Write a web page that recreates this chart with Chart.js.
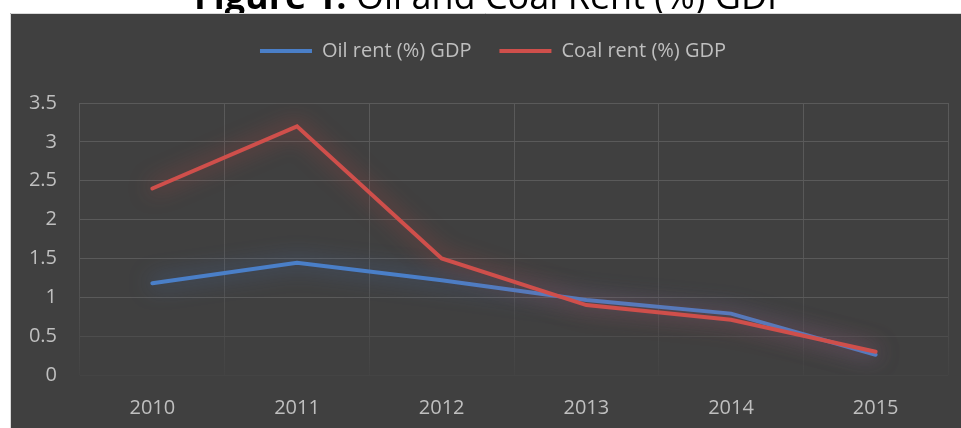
<!DOCTYPE html>
<html>
<head>
<meta charset="utf-8">
<script src="https://cdn.jsdelivr.net/npm/chart.js@4/dist/chart.umd.min.js"></script>
<style>
  html, body { margin: 0; padding: 0; background: #ffffff; }
  #wrap { width: 961px; height: 428px; position: relative; }
</style>
</head>
<body>
<div id="wrap"><canvas id="c" width="961" height="428"></canvas></div>
<script>
const years = ['2010', '2011', '2012', '2013', '2014', '2015'];
const oilRent = [1.18, 1.445, 1.22, 0.965, 0.79, 0.26];
const coalRent = [2.40, 3.20, 1.50, 0.90, 0.71, 0.30];
const seriesNames = ['Oil rent (%) GDP', 'Coal rent (%) GDP'];
const yTickValues = [0, 0.5, 1, 1.5, 2, 2.5, 3, 3.5];
const yTickLabels = ['0', '0.5', '1', '1.5', '2', '2.5', '3', '3.5'];
const titleBold = 'Figure 1.';
const titleRest = ' Oil and Coal Rent (%) GDP';

const BLUE = '#4a7fc8';
const RED = '#cf4f4b';
const GLOW = { 0: 'rgba(74,127,210,0.7)', 1: 'rgba(214,72,68,0.75)' };

Chart.defaults.font.family = "'Open Sans', sans-serif";
Chart.defaults.font.size = 20;
Chart.defaults.color = '#bfbfbf';

const framePlugin = {
  id: 'frame',
  beforeDraw(chart) {
    const ctx = chart.ctx;
    ctx.save();
    ctx.fillStyle = '#ffffff';
    ctx.fillRect(0, 0, chart.width, chart.height);
    ctx.fillStyle = '#000000';
    ctx.textBaseline = 'alphabetic';
    ctx.textAlign = 'left';
    ctx.font = "bold 36px 'Open Sans', sans-serif";
    const x0 = 194;
    ctx.fillText(titleBold, x0, 9);
    const w = ctx.measureText(titleBold).width;
    ctx.font = "36px 'Open Sans', sans-serif";
    ctx.fillText(titleRest, x0 + w, 9);
    ctx.fillStyle = '#404040';
    ctx.fillRect(10, 13, chart.width - 10, chart.height - 13);
    ctx.strokeStyle = '#d9d9d9';
    ctx.lineWidth = 1;
    ctx.beginPath();
    ctx.moveTo(10.5, chart.height);
    ctx.lineTo(10.5, 13.5);
    ctx.lineTo(chart.width, 13.5);
    ctx.stroke();
    ctx.restore();
  },
  afterLayout(chart) {
    const l = chart.legend;
    if (l) { l.left += 14; l.right += 14; }
  },
  beforeDatasetDraw(chart, args) {
    const ctx = chart.ctx;
    ctx.save();
    ctx.shadowColor = GLOW[args.index];
    ctx.shadowBlur = 22;
    ctx.shadowOffsetX = 0;
    ctx.shadowOffsetY = 0;
  },
  afterDatasetDraw(chart) {
    chart.ctx.restore();
  }
};

function vGridColor(c) {
  const chart = c.chart;
  const a = chart.chartArea;
  if (!a) return '#585858';
  const g = chart.ctx.createLinearGradient(0, a.top, 0, a.bottom);
  g.addColorStop(0, '#5a5a5a');
  g.addColorStop(0.6, '#565656');
  g.addColorStop(1, '#434343');
  return g;
}
function hGridColor(c) {
  const v = c.tick ? c.tick.value : 1;
  if (v <= 0) return '#444444';
  if (v <= 0.5) return '#4d4d4d';
  return '#5a5a5a';
}

new Chart(document.getElementById('c'), {
  type: 'line',
  data: {
    labels: years,
    datasets: [
      {
        label: seriesNames[0], data: oilRent,
        borderColor: BLUE, backgroundColor: BLUE,
        borderWidth: 4, pointRadius: 0, tension: 0,
        borderCapStyle: 'round', order: 1
      },
      {
        label: seriesNames[1], data: coalRent,
        borderColor: RED, backgroundColor: RED,
        borderWidth: 4, pointRadius: 0, tension: 0,
        borderCapStyle: 'round', order: 0
      }
    ]
  },
  options: {
    responsive: false,
    animation: false,
    devicePixelRatio: 1,
    layout: { padding: { left: 10, right: 13, top: 13, bottom: 0 } },
    plugins: {
      legend: {
        position: 'top',
        weight: 3000,
        labels: {
          usePointStyle: true,
          pointStyle: 'line',
          pointStyleWidth: 52,
          padding: 28,
          color: '#bfbfbf',
          font: { size: 20 },
          sort: (a, b) => a.datasetIndex - b.datasetIndex
        }
      },
      subtitle: {
        display: true,
        text: '',
        weight: 500,
        font: { size: 2, lineHeight: 1 },
        padding: 15
      },
      title: { display: false },
      tooltip: { enabled: false }
    },
    scales: {
      x: {
        offset: true,
        grid: { offset: true, color: vGridColor, lineWidth: 1, drawTicks: false },
        border: { display: false },
        ticks: { padding: 21, color: '#bfbfbf', font: { size: 20 } },
        afterFit(s) { s.height = 53; }
      },
      y: {
        min: yTickValues[0], max: yTickValues[yTickValues.length - 1],
        afterBuildTicks(s) { s.ticks = yTickValues.map(v => ({ value: v })); },
        grid: { color: hGridColor, lineWidth: 1, drawTicks: false },
        border: { display: false },
        ticks: {
          padding: 23, color: '#bfbfbf', font: { size: 20 },
          callback: (v) => yTickLabels[yTickValues.indexOf(v)]
        },
        afterFit(s) { s.width = 70; }
      }
    }
  },
  plugins: [framePlugin]
});
</script>
</body>
</html>
